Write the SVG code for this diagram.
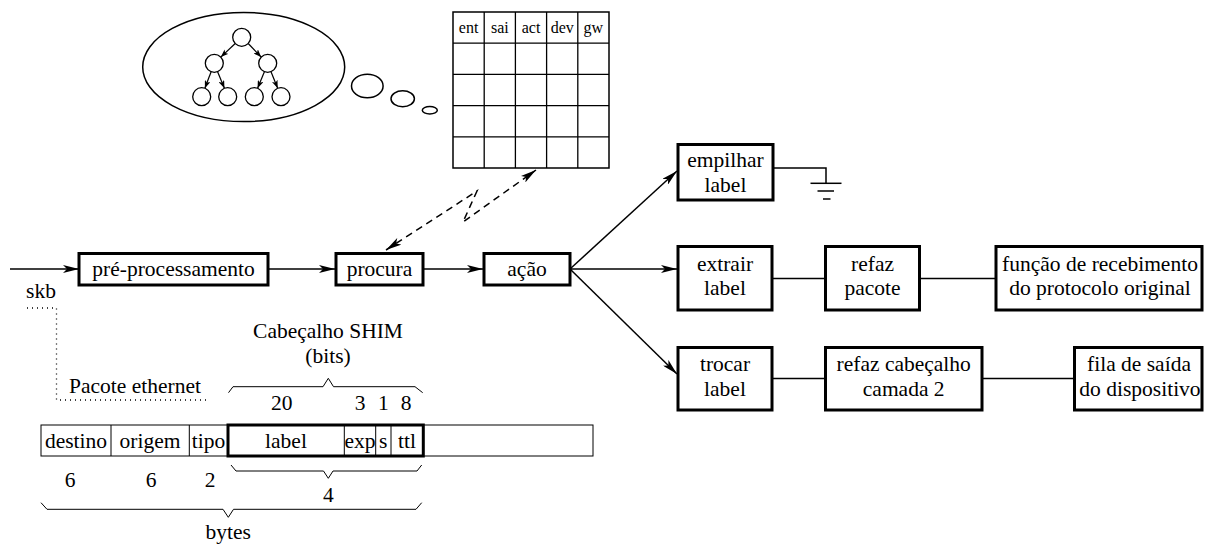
<svg xmlns="http://www.w3.org/2000/svg" width="1206" height="545" viewBox="0 0 1206 545" font-family="'Liberation Serif', 'Times New Roman', Times, serif">
  <style>
    text { font-family: 'Liberation Serif', 'Times New Roman', Times, serif; font-size: 21.5px; fill: #000; text-anchor: middle; }
    .hdr { font-size: 16px; }
    .box { fill: #fff; stroke: #000; stroke-width: 3; }
    .thin { fill: none; stroke: #000; stroke-width: 1; }
    .line { fill: none; stroke: #000; stroke-width: 1.5; }
    .node { fill: #fff; stroke: #000; stroke-width: 1.3; }
    .dash { fill: none; stroke: #000; stroke-width: 1.5; stroke-dasharray: 7 5; }
    .dot { fill: none; stroke: #000; stroke-width: 1.3; stroke-dasharray: 1 4; }
  </style>
  <defs>
    <marker id="arr" viewBox="0 0 16 8" markerWidth="16" markerHeight="8" refX="16" refY="4" markerUnits="userSpaceOnUse" orient="auto-start-reverse">
      <path d="M0,0 L16,4 L0,8 L4,4 Z" fill="#000"/>
    </marker>
    <marker id="sm" viewBox="0 0 8 6" markerWidth="8" markerHeight="6" refX="8" refY="3" markerUnits="userSpaceOnUse" orient="auto">
      <path d="M0,0 L8,3 L0,6 L2,3 Z" fill="#000"/>
    </marker>
  </defs>

  <!-- thought bubble with search tree -->
  <g id="tree-bubble">
    <ellipse cx="243.7" cy="67" rx="101" ry="54.5" class="line" stroke-width="1.3"/>
    <ellipse cx="367.3" cy="86" rx="15.8" ry="11.7" class="line" stroke-width="1.3"/>
    <ellipse cx="402.7" cy="98.7" rx="11.7" ry="8" class="line" stroke-width="1.3"/>
    <ellipse cx="429.8" cy="110.3" rx="7.5" ry="3.7" class="line" stroke-width="1.3"/>
    <g class="tree-edges" stroke="#000" stroke-width="1.2" fill="none">
      <line x1="235.2" y1="43.5" x2="220.8" y2="57.1" marker-end="url(#sm)"/>
      <line x1="248.2" y1="43.5" x2="261.2" y2="57.1" marker-end="url(#sm)"/>
      <line x1="211.1" y1="71.7" x2="204.9" y2="88.3" marker-end="url(#sm)"/>
      <line x1="217.6" y1="71.7" x2="224.4" y2="88.3" marker-end="url(#sm)"/>
      <line x1="264.4" y1="71.7" x2="257.6" y2="88.3" marker-end="url(#sm)"/>
      <line x1="271.0" y1="71.7" x2="277.7" y2="88.3" marker-end="url(#sm)"/>
    </g>
    <circle cx="241.7" cy="37.3" r="9" class="node"/>
    <circle cx="214.3" cy="63.3" r="9" class="node"/>
    <circle cx="267.7" cy="63.3" r="9" class="node"/>
    <circle cx="201.7" cy="96.7" r="9" class="node"/>
    <circle cx="227.7" cy="96.7" r="9" class="node"/>
    <circle cx="254.3" cy="96.7" r="9" class="node"/>
    <circle cx="281" cy="96.7" r="9" class="node"/>
  </g>

  <!-- lookup table -->
  <g id="table">
    <rect x="453" y="12" width="156" height="156" fill="#fff" stroke="#000" stroke-width="1.5"/>
    <g stroke="#000" stroke-width="1.3">
      <line x1="484.2" y1="12" x2="484.2" y2="168"/>
      <line x1="515.4" y1="12" x2="515.4" y2="168"/>
      <line x1="546.6" y1="12" x2="546.6" y2="168"/>
      <line x1="577.8" y1="12" x2="577.8" y2="168"/>
      <line x1="453" y1="43.2" x2="609" y2="43.2"/>
      <line x1="453" y1="74.4" x2="609" y2="74.4"/>
      <line x1="453" y1="105.6" x2="609" y2="105.6"/>
      <line x1="453" y1="136.8" x2="609" y2="136.8"/>
    </g>
    <text class="hdr" x="468.6" y="33">ent</text>
    <text class="hdr" x="499.8" y="33">sai</text>
    <text class="hdr" x="531" y="33">act</text>
    <text class="hdr" x="562.2" y="33">dev</text>
    <text class="hdr" x="593.4" y="33">gw</text>
  </g>

  <!-- connectors -->
  <g id="connectors">
    <path class="dash" d="M386,250 L477,191 L463,222 L536,170" marker-start="url(#arr)" marker-end="url(#arr)"/>
    <line class="line" x1="10" y1="269" x2="79" y2="269" marker-end="url(#arr)"/>
    <line class="line" x1="268" y1="269" x2="335" y2="269" marker-end="url(#arr)"/>
    <line class="line" x1="423" y1="269" x2="483" y2="269" marker-end="url(#arr)"/>
    <line class="line" x1="570" y1="269" x2="677" y2="171" marker-end="url(#arr)"/>
    <line class="line" x1="570" y1="269" x2="677" y2="269" marker-end="url(#arr)"/>
    <line class="line" x1="570" y1="269" x2="677" y2="374" marker-end="url(#arr)"/>
    <line class="line" x1="772" y1="278.5" x2="825" y2="278.5"/>
    <line class="line" x1="919" y1="278.5" x2="996" y2="278.5"/>
    <line class="line" x1="772" y1="378.5" x2="825" y2="378.5"/>
    <line class="line" x1="982" y1="378.5" x2="1074" y2="378.5"/>
    <path class="line" d="M773,168 L826,168 L826,183"/>
    <line class="line" x1="810.5" y1="183.3" x2="841.5" y2="183.3"/>
    <line class="line" x1="817.5" y1="191" x2="834" y2="191"/>
    <line class="line" x1="823" y1="199" x2="830.5" y2="199"/>
    <path class="dot" d="M27,308 L56.5,308 L56.5,400 L207,400"/>
  </g>

  <!-- processing chain -->
  <g id="pre-processamento">
    <rect class="box" x="79" y="253.5" width="189" height="31.5"/>
    <text x="173.5" y="276">pré-processamento</text>
  </g>
  <g id="procura">
    <rect class="box" x="336" y="253.5" width="87" height="31.5"/>
    <text x="379.5" y="276">procura</text>
  </g>
  <g id="acao">
    <rect class="box" x="484" y="253.5" width="86" height="31.5"/>
    <text x="527" y="276">ação</text>
  </g>
  <g id="empilhar">
    <rect class="box" x="678" y="144.5" width="95" height="55.5"/>
    <text x="725.5" y="167">empilhar</text>
    <text x="725.5" y="192">label</text>
  </g>
  <g id="extrair">
    <rect class="box" x="678" y="246.5" width="94" height="63.5"/>
    <text x="725" y="270.5">extrair</text>
    <text x="725" y="295">label</text>
  </g>
  <g id="refaz-pacote">
    <rect class="box" x="825.5" y="246.5" width="94" height="63.5"/>
    <text x="872.5" y="270.5">refaz</text>
    <text x="872.5" y="295">pacote</text>
  </g>
  <g id="funcao-recebimento">
    <rect class="box" x="996" y="246.5" width="206" height="63.5"/>
    <text x="1100" y="270.5">função de recebimento</text>
    <text x="1100" y="295">do protocolo original</text>
  </g>
  <g id="trocar">
    <rect class="box" x="678" y="347.5" width="94" height="62.5"/>
    <text x="725" y="371">trocar</text>
    <text x="725" y="395.5">label</text>
  </g>
  <g id="refaz-cabecalho">
    <rect class="box" x="825.5" y="347.5" width="156.5" height="62.5"/>
    <text x="903.7" y="371">refaz cabeçalho</text>
    <text x="903.7" y="395.5">camada 2</text>
  </g>
  <g id="fila-saida">
    <rect class="box" x="1074.5" y="347.5" width="127.5" height="62.5"/>
    <text x="1139" y="371">fila de saída</text>
    <text x="1140" y="395.5">do dispositivo</text>
  </g>

  <!-- packet layout -->
  <g id="skb">
    <text x="41" y="298">skb</text>
  </g>
  <g id="pacote">
    <text x="135" y="393">Pacote ethernet</text>
    <text x="328" y="337.5">Cabeçalho SHIM</text>
    <text x="328" y="363">(bits)</text>
    <path class="thin" d="M228.5,392.7 L233,386.7 L323,386.7 L328.3,378.3 L333.5,386.7 L415,386.7 L422.7,392.7"/>
    <text x="281.7" y="410">20</text>
    <text x="360" y="410">3</text>
    <text x="383.3" y="410">1</text>
    <text x="406" y="410">8</text>

    <rect class="thin" x="41" y="425" width="552" height="31"/>
    <line class="thin" x1="111" y1="425" x2="111" y2="456"/>
    <line class="thin" x1="189.3" y1="425" x2="189.3" y2="456"/>
    <line class="thin" x1="344.3" y1="425" x2="344.3" y2="456"/>
    <line class="thin" x1="375.7" y1="425" x2="375.7" y2="456"/>
    <line class="thin" x1="391" y1="425" x2="391" y2="456"/>
    <rect x="228" y="425" width="195.3" height="31" fill="none" stroke="#000" stroke-width="3"/>
    <text x="76" y="447.5">destino</text>
    <text x="150" y="447.5">origem</text>
    <text x="208.5" y="447.5">tipo</text>
    <text x="286" y="447.5">label</text>
    <text x="360" y="447.5">exp</text>
    <text x="383.3" y="447.5">s</text>
    <text x="407" y="447.5">ttl</text>

    <path class="thin" d="M231,465 L236,471 L323.5,471 L328.3,478.3 L333,471 L417,471 L421.7,465"/>
    <text x="70" y="487">6</text>
    <text x="151" y="487">6</text>
    <text x="210" y="487">2</text>
    <text x="328.3" y="502">4</text>
    <path class="thin" d="M41,502.7 L47,509.3 L223,509.3 L228.3,517.3 L233.5,509.3 L416,509.3 L421.7,502.7"/>
    <text x="228.3" y="538.5">bytes</text>
  </g>
</svg>
